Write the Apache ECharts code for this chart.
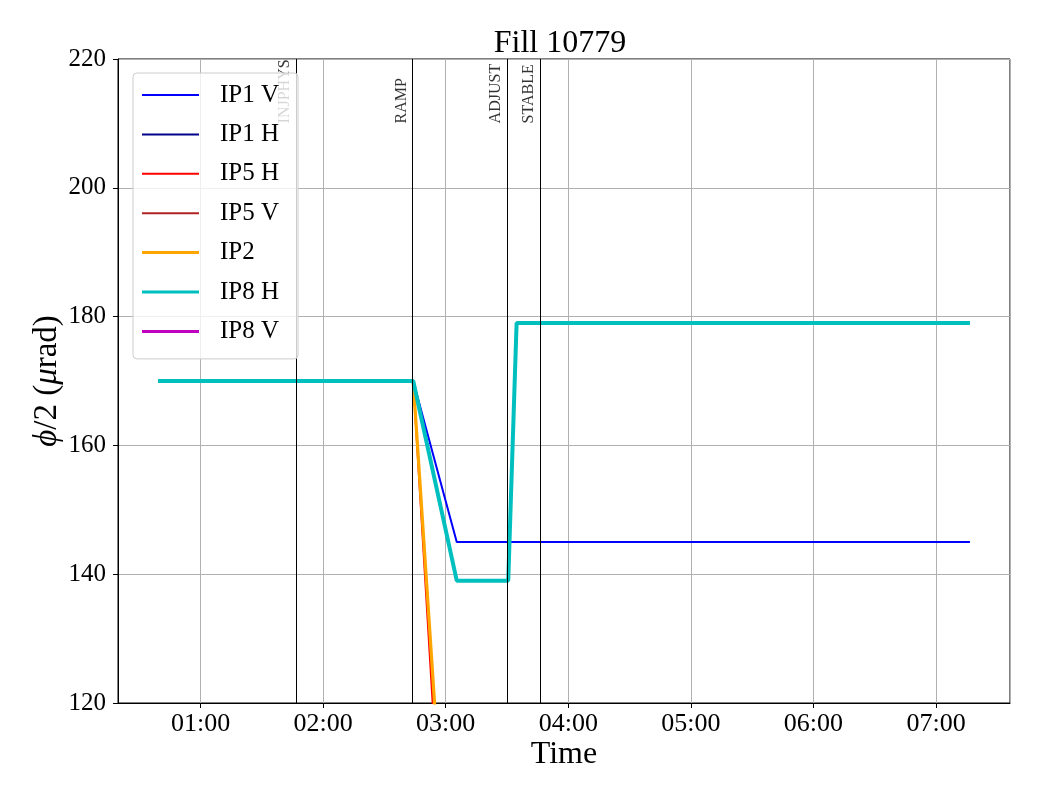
<!DOCTYPE html>
<html><head><meta charset="utf-8">
<script src="https://cdn.jsdelivr.net/npm/echarts@6/dist/echarts.min.js"></script>
<style>html,body{margin:0;padding:0;background:#fff}#c{width:1040px;height:800px}</style>
</head><body><div id="c"></div><script>
const chartTitle = 'Fill 10779';
const seriesNames = ['IP1 V', 'IP1 H', 'IP5 H', 'IP5 V', 'IP2', 'IP8 H', 'IP8 V'];
const ip1vTimes = ['00:39:12', '02:44:06', '03:05:24', '07:16:36'];
const ip1vValues = [170, 170, 145, 145];
const ip1hTimes = [];
const ip1hValues = [];
const ip5hTimes = ['00:39:12', '02:44:06', '03:05:24'];
const ip5hValues = [170, 170, 58];
const ip5vTimes = [];
const ip5vValues = [];
const ip2Times = ['00:39:12', '02:44:06', '03:05:24'];
const ip2Values = [170, 170, 68];
const ip8hTimes = ['00:39:12', '02:44:06', '03:05:24', '03:30:36', '03:34:42', '07:16:36'];
const ip8hValues = [170, 170, 139, 139, 179, 179];
const ip8vTimes = [];
const ip8vValues = [];
const modeNames = ['INJPHYS', 'RAMP', 'ADJUST', 'STABLE'];
const modeTimes = ['01:46:42', '02:44:06', '03:30:00', '03:46:06'];
const modeLabelY = 210;
const xMinTime = '00:19:36';
const xMaxTime = '07:36:12';
const yMin = 120, yMax = 220, yStep = 20;

const FONT = "'Liberation Serif', 'DejaVu Serif', serif";
function toHours(s) { const p = s.split(':').map(Number); return p[0] + p[1] / 60 + (p[2] || 0) / 3600; }
function pair(times, vals) { return times.map((t, i) => [toHours(t), vals[i]]); }
function fmtHM(v) {
  const totalMin = Math.round(v * 60);
  const h = Math.floor(totalMin / 60), m = totalMin % 60;
  return String(h).padStart(2, '0') + ':' + String(m).padStart(2, '0');
}

const styles = [
  { color: '#0000ff', width: 2 },
  { color: '#00008b', width: 2 },
  { color: '#ff0000', width: 2 },
  { color: '#b22222', width: 2 },
  { color: '#ffa500', width: 3.2 },
  { color: '#00bfbf', width: 4 },
  { color: '#bf00bf', width: 4 }
];
const dataSets = [
  pair(ip1vTimes, ip1vValues), pair(ip1hTimes, ip1hValues),
  pair(ip5hTimes, ip5hValues), pair(ip5vTimes, ip5vValues),
  pair(ip2Times, ip2Values), pair(ip8hTimes, ip8hValues),
  pair(ip8vTimes, ip8vValues)
];

// legend icon: thin horizontal bar inside a 4px tall box (tiny invisible sliver keeps the box)
function barIcon(w) {
  const y0 = (4 - w) / 2, y1 = y0 + w;
  return 'path://M0,' + y0 + ' L57,' + y0 + ' L57,' + y1 + ' L0,' + y1 + ' Z M0,0 L0.01,0 L0.01,4 L0,4 Z';
}

const series = seriesNames.map((n, i) => ({
  name: n, type: 'line', data: dataSets[i], symbol: 'none', showSymbol: false,
  lineStyle: { color: styles[i].color, width: styles[i].width },
  itemStyle: { color: styles[i].color },
  z: 2 + i * 0.01, animation: false
}));

series.push({
  name: 'modes', type: 'line', data: [], symbol: 'none', z: 3,
  markLine: {
    silent: true, symbol: ['none', 'none'], animation: false,
    label: { show: false },
    lineStyle: { color: '#000', width: 1, type: 'solid' },
    data: modeTimes.map(t => ({ xAxis: toHours(t) }))
  }
});
series.push({
  name: 'modeLabels', type: 'scatter', symbolSize: 0, z: 3, silent: true,
  data: modeTimes.map((t, i) => ({ value: [toHours(t), modeLabelY], name: modeNames[i] })),
  label: {
    show: true, formatter: p => p.name, rotate: 90, position: [-3, 0],
    align: 'left', verticalAlign: 'bottom',
    fontFamily: FONT, fontSize: 16, color: '#000'
  },
  animation: false
});

const chart = echarts.init(document.getElementById('c'), null, { renderer: 'canvas' });
chart.setOption({
  animation: false,
  backgroundColor: '#fff',
  title: {
    text: chartTitle, left: 555, textAlign: 'center', top: 23,
    textStyle: { fontFamily: FONT, fontSize: 32, fontWeight: 'normal', color: '#000' }
  },
  grid: { left: 118, right: 30, top: 59, bottom: 97, show: true, borderColor: '#000', borderWidth: 1, containLabel: false },
  legend: {
    data: seriesNames.map((n, i) => ({ name: n, icon: barIcon(Math.min(styles[i].width, 3)) })),
    orient: 'vertical', left: 133, top: 73,
    itemWidth: 57, itemHeight: 4, itemGap: 14.4,
    padding: [9.5, 19, 15, 9],
    backgroundColor: 'rgba(255,255,255,0.8)', borderColor: '#cccccc', borderWidth: 1, borderRadius: 4,
    textStyle: { fontFamily: FONT, fontSize: 25, color: '#000', lineHeight: 25, padding: [0, 0, 0, 16] },
    selectedMode: false, z: 10
  },
  xAxis: {
    type: 'value', min: toHours(xMinTime), max: toHours(xMaxTime), splitNumber: 7,
    name: 'Time', nameLocation: 'middle', nameGap: 36, nameMoveOverlap: false,
    nameTextStyle: { fontFamily: FONT, fontSize: 32, color: '#000' },
    axisLine: { show: true, lineStyle: { color: '#000', width: 1 } },
    axisTick: { show: true, length: 5, lineStyle: { color: '#000' } },
    axisLabel: { fontFamily: FONT, fontSize: 26, color: '#000', margin: 8, showMinLabel: false, showMaxLabel: false, formatter: v => fmtHM(v) },
    splitLine: { show: true, lineStyle: { color: '#b0b0b0', width: 1 } }
  },
  yAxis: {
    type: 'value', min: yMin, max: yMax, interval: yStep,
    name: '{i|ϕ}/2 ({i|μ}rad)', nameLocation: 'middle', nameRotate: 90, nameGap: 54, nameMoveOverlap: false,
    nameTextStyle: { fontFamily: FONT, fontSize: 33, color: '#000',
      rich: { i: { fontFamily: FONT, fontSize: 33, fontStyle: 'italic', color: '#000' } } },
    axisLine: { show: true, lineStyle: { color: '#000', width: 1 } },
    axisTick: { show: true, length: 5, lineStyle: { color: '#000' } },
    axisLabel: { fontFamily: FONT, fontSize: 25, color: '#000', margin: 12 },
    splitLine: { show: true, lineStyle: { color: '#b0b0b0', width: 1 } }
  },
  series: series
});
</script></body></html>
